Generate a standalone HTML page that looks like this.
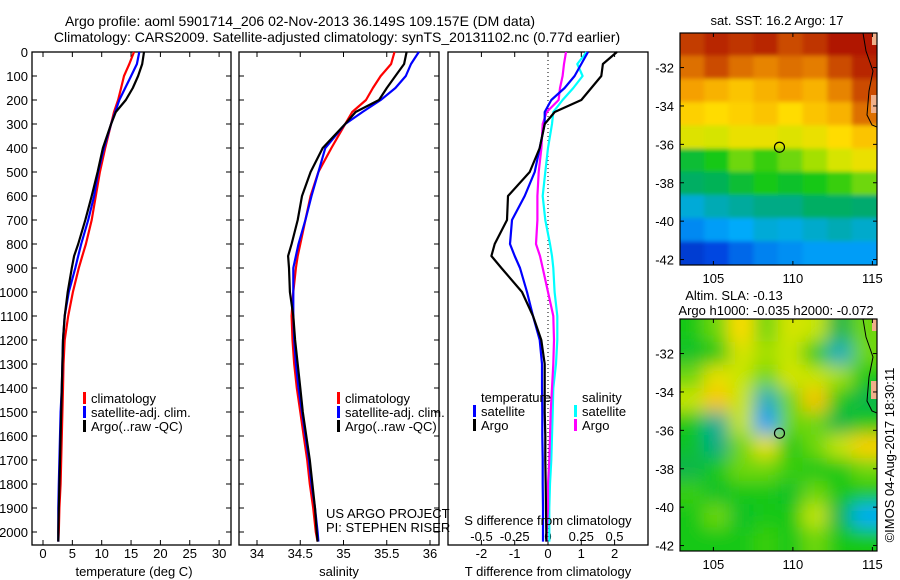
<!DOCTYPE html>
<html><head><meta charset="utf-8">
<style>
html,body{margin:0;padding:0;background:#fff;}
svg{display:block;font-family:"Liberation Sans",sans-serif;}
text{fill:#000;}
</style></head>
<body>
<svg id="fig" width="900" height="580" viewBox="0 0 900 580" xmlns="http://www.w3.org/2000/svg">
<defs>
<filter id="blurSla" filterUnits="userSpaceOnUse" x="600" y="250" width="350" height="380"><feGaussianBlur stdDeviation="9"/></filter>
<filter id="blurSst" filterUnits="userSpaceOnUse" x="600" y="0" width="350" height="330"><feGaussianBlur stdDeviation="2"/></filter>
<clipPath id="clipSst"><rect x="680" y="33" width="197" height="232"/></clipPath>
<clipPath id="clipSla"><rect x="680" y="319" width="197" height="232"/></clipPath>
</defs>
<text x="300" y="26" font-size="14" text-anchor="middle">Argo profile: aoml 5901714_206 02-Nov-2013 36.149S 109.157E (DM data)</text>
<text x="337" y="42" font-size="14" text-anchor="middle">Climatology: CARS2009. Satellite-adjusted climatology: synTS_20131102.nc (0.77d earlier)</text>
<g id="g1"></g>
<g id="g2"></g>
<g id="g3"></g>
<g id="g4"></g>
<g id="g5"></g>
<text transform="translate(894,455) rotate(-90)" font-size="13" text-anchor="middle">©IMOS 04-Aug-2017 18:30:11</text>
</svg>
<script>
const depths = [0,50,100,150,200,250,300,400,500,600,700,800,850,900,1000,1100,1200,1300,1400,1500,1600,1700,1800,1900,2000,2040];
const tempArgo = [17.2,16.9,16.2,15.3,14.1,12.4,11.6,10.2,9.3,8.3,7.2,6.0,5.3,4.9,4.2,3.7,3.4,3.3,3.2,3.1,3.0,2.9,2.8,2.7,2.6,2.6];
const tempClim = [15.5,14.7,13.8,13.3,12.8,12.1,11.6,10.6,9.7,9.0,8.3,7.3,6.7,6.1,5.1,4.3,3.7,3.5,3.4,3.3,3.2,3.1,3.0,2.8,2.7,2.6];
const tempSat = [16.4,16.0,15.0,14.0,13.0,12.3,11.6,10.4,9.4,8.7,7.7,6.5,6.0,5.5,4.4,3.7,3.4,3.3,3.2,3.0,2.9,2.8,2.7,2.6,2.6,2.6];
const salArgo = [35.73,35.70,35.60,35.50,35.41,35.14,35.02,34.76,34.62,34.52,34.47,34.40,34.36,34.37,34.38,34.42,34.44,34.47,34.50,34.53,34.57,34.61,34.64,34.67,34.69,34.70];
const salClim = [35.59,35.55,35.43,35.34,35.26,35.10,35.02,34.86,34.71,34.62,34.56,34.50,34.47,34.45,34.42,34.40,34.41,34.43,34.46,34.50,34.54,34.58,34.61,34.65,34.68,34.70];
const salSat = [35.87,35.78,35.72,35.60,35.43,35.22,35.02,34.79,34.71,34.63,34.56,34.48,34.45,34.42,34.42,34.42,34.43,34.45,34.48,34.52,34.56,34.60,34.63,34.67,34.70,34.71];
const tdArgo = [2.07,1.65,1.6,1.3,1.0,0.2,-0.1,-0.25,-0.55,-1.2,-1.23,-1.6,-1.7,-1.4,-0.78,-0.45,-0.2,-0.1,-0.1,-0.1,-0.08,-0.08,-0.07,-0.06,-0.05,-0.05];
const tdSat = [1.2,1.0,0.8,0.5,0.1,-0.1,-0.1,-0.25,-0.4,-0.7,-1.08,-1.14,-1.0,-0.84,-0.63,-0.45,-0.25,-0.18,-0.18,-0.17,-0.17,-0.16,-0.16,-0.15,-0.15,-0.15];
const sdSat = [0.29,0.22,0.26,0.19,0.11,0.04,0.03,0.0,-0.02,-0.04,-0.02,0.015,0.03,0.04,0.05,0.07,0.07,0.06,0.04,0.035,0.03,0.025,0.015,0.01,0.01,0.01];
const sdArgo = [0.135,0.12,0.11,0.09,0.08,-0.01,-0.04,-0.05,-0.07,-0.08,-0.08,-0.09,-0.06,-0.04,0.0,0.04,0.045,0.04,0.03,0.02,0.015,0.01,0.0,0.0,-0.01,-0.01];
const depthTicks = [0,100,200,300,400,500,600,700,800,900,1000,1100,1200,1300,1400,1500,1600,1700,1800,1900,2000];
const tempTicks = [0,5,10,15,20,25,30];
const salTicks = [34,34.5,35,35.5,36];
const tdTicks = [-2,-1,0,1,2];
const sdTicks = [-0.5,-0.25,0,0.25,0.5];
const sstLatTicks = [-32,-34,-36,-38,-40,-42];
const lonTicks = [105,110,115];
const sstGrid = [
[0.92,0.95,0.93,0.95,0.90,0.93,0.97,0.97],
[0.85,0.90,0.85,0.82,0.85,0.83,0.90,0.95],
[0.78,0.75,0.72,0.75,0.78,0.75,0.82,0.90],
[0.70,0.68,0.70,0.72,0.68,0.72,0.75,0.85],
[0.63,0.62,0.65,0.65,0.63,0.65,0.68,0.72],
[0.47,0.50,0.55,0.52,0.55,0.58,0.62,0.65],
[0.43,0.44,0.47,0.50,0.48,0.50,0.52,0.55],
[0.33,0.36,0.38,0.40,0.40,0.43,0.43,0.42],
[0.25,0.28,0.30,0.33,0.32,0.34,0.36,0.34],
[0.12,0.15,0.20,0.24,0.26,0.28,0.28,0.28]];
const slaGrid = [
[0.50,0.55,0.68,0.55,0.62,0.60,0.45,0.55],
[0.48,0.50,0.62,0.58,0.60,0.50,0.35,0.55],
[0.55,0.65,0.60,0.55,0.62,0.60,0.58,0.50],
[0.60,0.72,0.60,0.35,0.55,0.72,0.50,0.45],
[0.50,0.38,0.60,0.28,0.55,0.55,0.45,0.50],
[0.48,0.40,0.55,0.65,0.50,0.55,0.60,0.70],
[0.45,0.50,0.55,0.55,0.52,0.50,0.50,0.55],
[0.52,0.48,0.50,0.50,0.48,0.55,0.50,0.50],
[0.50,0.55,0.48,0.50,0.50,0.60,0.45,0.30],
[0.50,0.50,0.50,0.52,0.50,0.55,0.50,0.50]];
const argoPos = [109.157,-36.149];

const NS='http://www.w3.org/2000/svg';
function mk(parent,tag,attrs,txt){const e=document.createElementNS(NS,tag);for(const k in attrs)e.setAttribute(k,attrs[k]);if(txt!==undefined)e.textContent=txt;parent.appendChild(e);return e;}
const TOP=52,BOT=545;
const yD=d=>TOP+d*0.24;
function panel(g,x0,x1,xs,ticks,fmt,labelY,ylabels){
  const r=mk(g,'rect',{x:x0,y:TOP,width:x1-x0,height:BOT-TOP,fill:'none',stroke:'#000','stroke-width':1.3});
  
  
  depthTicks.forEach(d=>{
    mk(g,'line',{x1:x0,x2:x0+5,y1:yD(d),y2:yD(d),stroke:'#000'});
    mk(g,'line',{x1:x1-5,x2:x1,y1:yD(d),y2:yD(d),stroke:'#000'});
    if(ylabels){const t=mk(g,'text',{x:28,y:yD(d)+5,'font-size':13,'text-anchor':'end'},String(d));
      
      }
  });
  ticks.forEach(v=>{const x=xs(v);
    mk(g,'line',{x1:x,x2:x,y1:TOP,y2:TOP+5,stroke:'#000'});
    mk(g,'line',{x1:x,x2:x,y1:BOT-5,y2:BOT,stroke:'#000'});
    if(labelY){const t=mk(g,'text',{x:x,y:labelY,'font-size':13,'text-anchor':'middle'},fmt(v));
      
      }
  });
}
function line(g,vals,xs,color,name,w){
  const pts=vals.map((v,i)=>xs(v).toFixed(1)+','+yD(depths[i]).toFixed(1)).join(' ');
  const p=mk(g,'polyline',{points:pts,fill:'none',stroke:color,'stroke-width':w||2.2,'stroke-linejoin':'round'});
  
  
}
function legend(g,x,y,items){
  items.forEach((it,i)=>{
    mk(g,'rect',{x:x,y:y+i*14-6,width:3,height:12,fill:it[1]});
    const t=mk(g,'text',{x:x+8,y:y+i*14+5,'font-size':13},it[0]);
    
    
  });
}
// Panel 1
const g1=document.getElementById('g1');
const xT=t=>43+t*5.87;
panel(g1,32,231,xT,tempTicks,String,558,true);
line(g1,tempClim,xT,'#f00','temp-climatology-line');
line(g1,tempSat,xT,'#00f','temp-satellite-line');
line(g1,tempArgo,xT,'#000','temp-argo-line');
legend(g1,83,398,[['climatology','#f00'],['satellite-adj. clim.','#00f'],['Argo(..raw -QC)','#000']]);
let t=mk(g1,'text',{x:134,y:576,'font-size':13,'text-anchor':'middle'},'temperature (deg C)');


// Panel 2
const g2=document.getElementById('g2');
const xS=s=>257+(s-34)*86.5;
panel(g2,239,439,xS,salTicks,String,558,false);
line(g2,salClim,xS,'#f00','sal-climatology-line');
line(g2,salSat,xS,'#00f','sal-satellite-line');
line(g2,salArgo,xS,'#000','sal-argo-line');
legend(g2,337,398,[['climatology','#f00'],['satellite-adj. clim.','#00f'],['Argo(..raw -QC)','#000']]);
t=mk(g2,'text',{x:326,y:518,'font-size':13},'US ARGO PROJECT');


t=mk(g2,'text',{x:326,y:532,'font-size':13},'PI: STEPHEN RISER');


t=mk(g2,'text',{x:339,y:576,'font-size':13,'text-anchor':'middle'},'salinity');


// Panel 3
const g3=document.getElementById('g3');
const xTD=v=>548+v*33.3;
const xSD=v=>548+v*133;
const f3=mk(g3,'rect',{x:448,y:TOP,width:200,height:BOT-TOP,fill:'none',stroke:'#000','stroke-width':1.3});


tdTicks.forEach(v=>{mk(g3,'line',{x1:xTD(v),x2:xTD(v),y1:TOP,y2:TOP+5,stroke:'#000'});
  mk(g3,'line',{x1:xTD(v),x2:xTD(v),y1:BOT-5,y2:BOT,stroke:'#000'});
  const e=mk(g3,'text',{x:xTD(v),y:558,'font-size':13,'text-anchor':'middle'},String(v));
  
  });
sdTicks.forEach(v=>{const e=mk(g3,'text',{x:xSD(v),y:541,'font-size':13,'text-anchor':'middle'},String(v));
  
  });
mk(g3,'line',{x1:548,x2:548,y1:TOP,y2:BOT,stroke:'#000','stroke-dasharray':'1,3'});
line(g3,sdSat,xSD,'#0ff','sdiff-satellite-line');
line(g3,sdArgo,xSD,'#f0f','sdiff-argo-line');
line(g3,tdSat,xTD,'#00f','tdiff-satellite-line');
line(g3,tdArgo,xTD,'#000','tdiff-argo-line');
t=mk(g3,'text',{x:481,y:402,'font-size':13},'temperature');


t=mk(g3,'text',{x:582,y:402,'font-size':13},'salinity');


legend(g3,473,411,[['satellite','#00f'],['Argo','#000']]);
legend(g3,574,411,[['satellite','#0ff'],['Argo','#f0f']]);
t=mk(g3,'text',{x:548,y:525,'font-size':13,'text-anchor':'middle'},'S difference from climatology');


t=mk(g3,'text',{x:548,y:576,'font-size':13,'text-anchor':'middle'},'T difference from climatology');


// Maps
const stops=[[0,[0,20,150]],[0.15,[0,70,225]],[0.3,[0,170,250]],[0.42,[0,170,110]],[0.5,[20,200,20]],[0.6,[200,230,0]],[0.68,[255,220,0]],[0.78,[245,160,0]],[0.88,[210,90,0]],[1,[165,0,0]]];
function cmap(v){for(let i=1;i<stops.length;i++){if(v<=stops[i][0]){const a=stops[i-1],b=stops[i],f=(v-a[0])/(b[0]-a[0]);
  return 'rgb('+a[1].map((c,k)=>Math.round(c+(b[1][k]-c)*f)).join(',')+')';}}return 'rgb(165,0,0)';}
const lonX=lon=>680+(lon-102.9)*15.9;
function drawMap(g,y0,grid,clip,filt,nameCells,bg){
  const latY=lat=>y0+(-30.2-lat)*19.2;
  const cg=mk(g,'g',{'clip-path':'url(#'+clip+')'});
  mk(cg,'rect',{x:680,y:y0,width:197,height:232,fill:bg});
  const inner=mk(cg,'g',{filter:'url(#'+filt+')'});
  const nr=grid.length,nc=grid[0].length,cw=197/nc,ch=232/nr;
  grid.forEach((row,r)=>row.forEach((v,c)=>{
    // extend edge cells outward to avoid blur fade at borders
    const x=680+c*cw-(c===0?20:0.5), y=y0+r*ch-(r===0?20:0.5);
    const w=cw+1+(c===0?20:0)+(c===nc-1?20:0), h=ch+1+(r===0?20:0)+(r===nr-1?20:0);
    const e=mk(inner,'rect',{x:x,y:y,width:w,height:h,fill:cmap(v)});
    
    
  }));
  // land / coastline
  mk(cg,'rect',{x:872,y:y0,width:6,height:12,fill:'#f0b08a'});
  mk(cg,'rect',{x:871,y:y0+62,width:6,height:18,fill:'#f0b08a'});
  mk(cg,'path',{d:`M863 ${y0} L866 ${y0+18} L873 ${y0+38} L869 ${y0+58} L867 ${y0+82} L872 ${y0+92} L877 ${y0+94}`,fill:'none',stroke:'#000','stroke-width':1});
  const fr=mk(g,'rect',{x:680,y:y0,width:197,height:232,fill:'none',stroke:'#000','stroke-width':1.2});
  
  
  sstLatTicks.forEach(lat=>{const y=latY(lat);
    mk(g,'line',{x1:680,x2:684,y1:y,y2:y,stroke:'#000'});
    mk(g,'line',{x1:873,x2:877,y1:y,y2:y,stroke:'#000'});
    const e=mk(g,'text',{x:674,y:y+5,'font-size':13,'text-anchor':'end'},String(lat));
    
    });
  lonTicks.forEach(lon=>{const x=lonX(lon);
    mk(g,'line',{x1:x,x2:x,y1:y0,y2:y0+4,stroke:'#000'});
    mk(g,'line',{x1:x,x2:x,y1:y0+228,y2:y0+232,stroke:'#000'});
    const e=mk(g,'text',{x:x,y:y0+250,'font-size':13,'text-anchor':'middle'},String(lon));
    
    });
  const m=mk(g,'circle',{cx:lonX(argoPos[0]),cy:latY(argoPos[1]),r:5,fill:'none',stroke:'#000','stroke-width':1.2});
  
  
}
const g4=document.getElementById('g4');
drawMap(g4,33,sstGrid,'clipSst','blurSst','sst-cell','#c8a000');
t=mk(g4,'text',{x:777,y:25,'font-size':13,'text-anchor':'middle'},'sat. SST: 16.2 Argo: 17');


const g5=document.getElementById('g5');
drawMap(g5,319,slaGrid,'clipSla','blurSla','sla-cell','rgb(20,200,20)');
t=mk(g5,'text',{x:734,y:300,'font-size':13,'text-anchor':'middle'},'Altim. SLA: -0.13');


t=mk(g5,'text',{x:776,y:315,'font-size':13,'text-anchor':'middle'},'Argo h1000: -0.035 h2000: -0.072');


</script>
</body></html>
